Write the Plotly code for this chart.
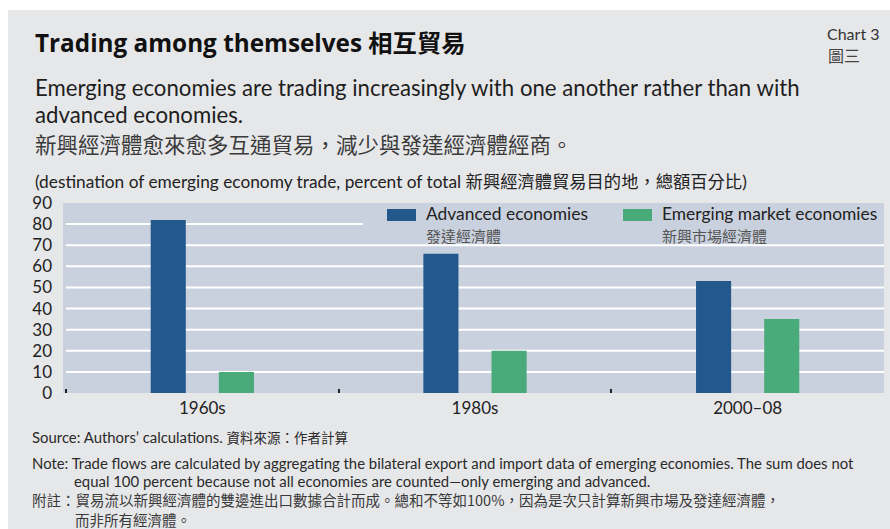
import plotly.graph_objects as go

# ---------------- data ----------------
categories = ["1960s", "1980s", "2000–08"]
advanced = [82, 66, 53]
emerging = [10, 20, 35]
series_names = ["Advanced economies", "Emerging market economies"]
series_names_zh = ["發達經濟體", "新興市場經濟體"]
y_ticks = [0, 10, 20, 30, 40, 50, 60, 70, 80, 90]

# ---------------- style ----------------
W, H = 890, 529
L, R, T, B = 63, 6, 203, 136
PW, PH = W - L - R, H - T - B
C_ADV = "#23588d"
C_EM = "#49ab79"
PANEL = "#e6e7e9"
PLOTBG = "#cad1de"
FONT = "Lato, 'Noto Sans CJK TC', sans-serif"
CJK = "'Noto Sans CJK TC', Lato, sans-serif"
TITLE_FONT = "'Open Sans', 'Noto Sans CJK TC', sans-serif"


def px(x):
    return (x - L) / PW


def py(y):
    return (T + PH - y) / PH


fig = go.Figure()
fig.add_trace(go.Bar(x=categories, y=advanced, name=series_names[0],
                     marker=dict(color=C_ADV, line=dict(width=0)), showlegend=False))
fig.add_trace(go.Bar(x=categories, y=emerging, name=series_names[1],
                     marker=dict(color=C_EM, line=dict(width=0)), showlegend=False))

shapes = []
# white strips at top and left (panel is grey)
shapes.append(dict(type="rect", xref="paper", yref="paper", x0=px(0), x1=px(W), y0=py(10), y1=py(0),
                   fillcolor="white", line=dict(width=0), layer="below"))
shapes.append(dict(type="rect", xref="paper", yref="paper", x0=px(0), x1=px(8), y0=py(H), y1=py(0),
                   fillcolor="white", line=dict(width=0), layer="below"))
# gridlines (80 line interrupted by legend)
for v in y_ticks[1:-1]:
    x1 = px(363) if v == 80 else 1.0
    shapes.append(dict(type="line", xref="paper", yref="y", x0=px(66), x1=x1, y0=v, y1=v,
                       line=dict(color="white", width=2), layer="between"))
# legend swatches
shapes.append(dict(type="rect", xref="paper", yref="paper", x0=px(387), x1=px(416), y0=py(221), y1=py(209),
                   fillcolor=C_ADV, line=dict(width=0)))
shapes.append(dict(type="rect", xref="paper", yref="paper", x0=px(623), x1=px(652), y0=py(221), y1=py(209),
                   fillcolor=C_EM, line=dict(width=0)))

ann = []


def text(x, y, s, size, color="#1a1a1a", family=FONT, anchor="left"):
    ann.append(dict(x=px(x), y=py(y), xref="paper", yref="paper", text=s, showarrow=False,
                    xanchor=anchor, yanchor="middle", align=anchor, borderpad=0,
                    font=dict(family=family, size=size, color=color)))


CJKSPAN = "<span style='font-family:Noto Sans CJK TC'>{}</span>"

text(34, 41, "<b>Trading among themselves " + CJKSPAN.format("相互貿易") + "</b>", 24.3, "#111111", family=TITLE_FONT)
text(881, 34, "Chart 3", 16, "#333333", anchor="right")
text(827, 55, "圖三", 16, "#444444", family=CJK)
text(34, 88, "Emerging economies are trading increasingly with one another rather than with", 22.2, "#1e1e1e")
text(34, 115, "advanced economies.", 22.2, "#1e1e1e")
text(34, 143, "新興經濟體愈來愈多互通貿易，減少與發達經濟體經商。", 21.5, "#3a3a3a", family=CJK)
text(34, 180, "(destination of emerging economy trade, percent of total "
     + CJKSPAN.format("新興經濟體貿易目的地，總額百分比") + ")", 17.3, "#222222")

# legend texts
text(425, 213, series_names[0], 17.4, "#222222")
text(425, 235, series_names_zh[0], 15, "#555555", family=CJK)
text(661, 213, series_names[1], 17.4, "#222222")
text(661, 235, series_names_zh[1], 15, "#555555", family=CJK)

# source & notes
NOTE = 14.9
text(31, 437, "Source: Authors’ calculations. "
     "<span style='font-family:Noto Sans CJK TC;font-size:13.5px'>資料來源：作者計算</span>", NOTE, "#2a2a2a")
text(31, 463, "Note: Trade flows are calculated by aggregating the bilateral export and import data of emerging economies. The sum does not", NOTE, "#2a2a2a")
text(73, 481, "equal 100 percent because not all economies are counted—only emerging and advanced.", NOTE, "#2a2a2a")
text(31, 499, "附註：貿易流以新興經濟體的雙邊進出口數據合計而成。總和不等如100%，因為是次只計算新興市場及發達經濟體，", 14.5, "#3a3a3a", family=CJK)
text(74, 519, "而非所有經濟體。", 14.5, "#3a3a3a", family=CJK)

fig.update_layout(
    width=W, height=H,
    margin=dict(l=L, r=R, t=T, b=B, pad=0),
    paper_bgcolor=PANEL, plot_bgcolor=PLOTBG,
    barmode="group", bargap=0.50, bargroupgap=0.485,
    shapes=shapes, annotations=ann,
    font=dict(family=FONT, color="#222222"),
    showlegend=False,
)
fig.update_xaxes(type="category", range=[-0.511, 2.5], showgrid=False, zeroline=False, showline=False,
                 ticks="inside", tickson="boundaries", ticklen=4, tickwidth=1.5, tickcolor="#222222",
                 tickfont=dict(size=17, color="#222222"), ticklabelstandoff=3)
fig.update_yaxes(range=[0, 90], tickvals=y_ticks, showgrid=False, zeroline=False, showline=False,
                 ticks="", tickfont=dict(size=17, color="#222222"), ticklabelstandoff=10)

fig.write_html("out.html")
